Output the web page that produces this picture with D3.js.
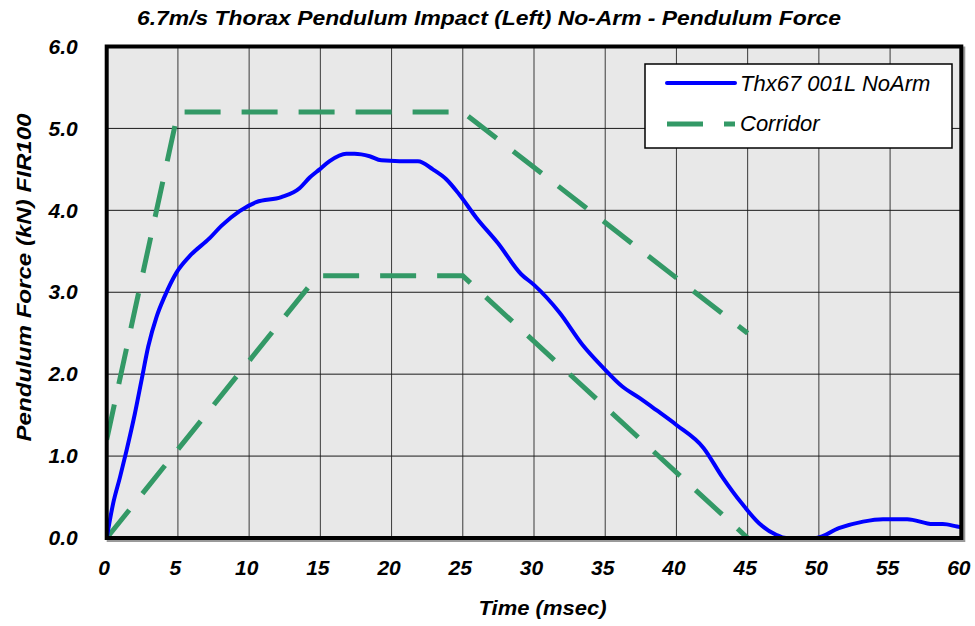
<!DOCTYPE html>
<html>
<head>
<meta charset="utf-8">
<script src="https://cdn.jsdelivr.net/npm/d3@7"></script>
<style>
  html, body { margin: 0; padding: 0; background: #fff; }
  svg { display: block; font-family: "Liberation Sans", Arial, sans-serif; }
</style>
</head>
<body>
<svg id="chart" width="975" height="626"></svg>
<script>
// ---- data ----
const titleText = "6.7m/s Thorax Pendulum Impact (Left) No-Arm - Pendulum Force";
const xLabel = "Time (msec)";
const yLabel = "Pendulum Force (kN) FIR100";
const seriesNames = ["Thx67 001L NoArm", "Corridor"];

const xTicks = [0, 5, 10, 15, 20, 25, 30, 35, 40, 45, 50, 55, 60];
const yTicks = [0, 1, 2, 3, 4, 5, 6];

// Test curve (time ms, force kN)
const testTime = [0, 0.45, 0.93, 1.38, 1.98, 2.45, 2.92, 3.5, 4.07, 4.9, 5.82, 7.23, 8.05, 9.33, 10.5, 12.26, 13.54, 14.25, 14.95, 15.65, 16.82, 17.4, 18.46, 19.28, 20.56, 21.85, 22.9, 23.84, 24.77, 25.95, 27.46, 29.1, 30.0, 31.8, 33.4, 34.8, 36.2, 37.4, 38.6, 40.0, 41.9, 43.2, 44.6, 45.8, 47.0, 47.7, 49.8, 51.4, 53.1, 54.5, 56.2, 58.0, 58.7, 59.7, 60];
const testForce = [0, 0.42, 0.74, 1.06, 1.52, 1.93, 2.34, 2.70, 2.95, 3.24, 3.44, 3.66, 3.81, 3.99, 4.10, 4.16, 4.27, 4.40, 4.50, 4.60, 4.69, 4.69, 4.66, 4.61, 4.60, 4.60, 4.50, 4.38, 4.19, 3.91, 3.60, 3.22, 3.09, 2.75, 2.36, 2.09, 1.85, 1.71, 1.56, 1.38, 1.10, 0.75, 0.42, 0.18, 0.04, 0.0, 0.0, 0.12, 0.20, 0.23, 0.23, 0.17, 0.17, 0.14, 0.13];

// Corridor bounds
const upperTime = [0, 5, 25, 45];
const upperForce = [1.2, 5.2, 5.2, 2.5];
const lowerTime = [0, 14.8, 25, 45];
const lowerForce = [0, 3.2, 3.2, 0];

// ---- layout ----
const svg = d3.select("#chart");
const pL = 106.7, pR = 961.3, pT = 46.5, pB = 538;
const x = d3.scaleLinear().domain([0, 60]).range([pL, pR]);
const y = d3.scaleLinear().domain([0, 6]).range([pB, pT]);

const blue = "#0000ff";
const green = "#339966";

// shadow
svg.append("rect")
  .attr("x", pL + 2).attr("y", pT + 2)
  .attr("width", pR - pL).attr("height", pB - pT)
  .attr("fill", "none").attr("stroke", "#9a9a9a").attr("stroke-width", 4);

// plot background
svg.append("rect")
  .attr("x", pL).attr("y", pT)
  .attr("width", pR - pL).attr("height", pB - pT)
  .attr("fill", "#e8e8e8");

// gridlines
svg.append("g")
  .selectAll("line")
  .data(xTicks.slice(1, -1))
  .join("line")
  .attr("x1", d => x(d)).attr("x2", d => x(d))
  .attr("y1", pT).attr("y2", pB)
  .attr("stroke", "#3a3a3a").attr("stroke-width", 1);
svg.append("g")
  .selectAll("line")
  .data(yTicks.slice(1, -1))
  .join("line")
  .attr("x1", pL).attr("x2", pR)
  .attr("y1", d => y(d)).attr("y2", d => y(d))
  .attr("stroke", "#1a1a1a").attr("stroke-width", 1);

// clip
svg.append("clipPath").attr("id", "clip")
  .append("rect").attr("x", pL).attr("y", pT)
  .attr("width", pR - pL).attr("height", pB - pT);

const line = d3.line().x(d => x(d[0])).y(d => y(d[1]));
const plot = svg.append("g").attr("clip-path", "url(#clip)");

plot.append("path")
  .datum(upperTime.map((t, i) => [t, upperForce[i]]))
  .attr("d", line)
  .attr("fill", "none").attr("stroke", green).attr("stroke-width", 5)
  .attr("stroke-dasharray", "36,21");
plot.append("path")
  .datum(lowerTime.map((t, i) => [t, lowerForce[i]]))
  .attr("d", line)
  .attr("fill", "none").attr("stroke", green).attr("stroke-width", 5)
  .attr("stroke-dasharray", "36,21");

plot.append("path")
  .datum(testTime.map((t, i) => [t, testForce[i]]))
  .attr("d", d3.line().x(d => x(d[0])).y(d => y(d[1])).curve(d3.curveMonotoneX))
  .attr("fill", "none").attr("stroke", blue).attr("stroke-width", 4)
  .attr("stroke-linejoin", "round");

// plot border
svg.append("rect")
  .attr("x", pL).attr("y", pT)
  .attr("width", pR - pL).attr("height", pB - pT)
  .attr("fill", "none").attr("stroke", "#000").attr("stroke-width", 4);

// axes labels via d3 axes (no domain/ticks drawn)
const yAxis = svg.append("g")
  .attr("transform", `translate(${pL},0)`)
  .call(d3.axisLeft(y).tickValues(yTicks).tickFormat(d3.format(".1f")).tickSize(0).tickPadding(29));
yAxis.select(".domain").remove();
yAxis.selectAll("text")
  .attr("font-family", "Liberation Sans, Arial, sans-serif")
  .attr("font-size", 21).attr("font-weight", "bold").attr("font-style", "italic")
  .attr("fill", "#000");

const xAxis = svg.append("g")
  .attr("transform", `translate(-3,${pB})`)
  .call(d3.axisBottom(x).tickValues(xTicks).tickFormat(d3.format("d")).tickSize(0).tickPadding(22));
xAxis.select(".domain").remove();
xAxis.selectAll("text")
  .attr("font-family", "Liberation Sans, Arial, sans-serif")
  .attr("font-size", 21).attr("font-weight", "bold").attr("font-style", "italic")
  .attr("fill", "#000");

// title
svg.append("text")
  .attr("x", 489).attr("y", 25)
  .attr("text-anchor", "middle")
  .attr("font-size", 20).attr("font-weight", "bold").attr("font-style", "italic")
  .attr("textLength", 704).attr("lengthAdjust", "spacingAndGlyphs")
  .text(titleText);

// x label
svg.append("text")
  .attr("x", 542.5).attr("y", 615)
  .attr("text-anchor", "middle")
  .attr("font-size", 21).attr("font-weight", "bold").attr("font-style", "italic")
  .attr("textLength", 128).attr("lengthAdjust", "spacingAndGlyphs")
  .text(xLabel);

// y label
svg.append("text")
  .attr("transform", "translate(31,277.5) rotate(-90)")
  .attr("text-anchor", "middle")
  .attr("font-size", 21).attr("font-weight", "bold").attr("font-style", "italic")
  .attr("textLength", 328).attr("lengthAdjust", "spacingAndGlyphs")
  .text(yLabel);

// legend
const lg = svg.append("g");
lg.append("rect")
  .attr("x", 645).attr("y", 64).attr("width", 307).attr("height", 84)
  .attr("fill", "#fff").attr("stroke", "#000").attr("stroke-width", 1.5);
lg.append("line")
  .attr("x1", 667).attr("x2", 735).attr("y1", 83).attr("y2", 83)
  .attr("stroke", blue).attr("stroke-width", 4).attr("stroke-linecap", "round");
lg.append("line")
  .attr("x1", 667).attr("x2", 735).attr("y1", 124).attr("y2", 124)
  .attr("stroke", green).attr("stroke-width", 5).attr("stroke-dasharray", "36,21");
lg.selectAll("text.leg")
  .data(seriesNames)
  .join("text")
  .attr("class", "leg")
  .attr("x", 740).attr("y", (d, i) => 90.5 + i * 40)
  .attr("font-size", 22).attr("font-style", "italic")
  .text(d => d);
</script>
</body>
</html>
